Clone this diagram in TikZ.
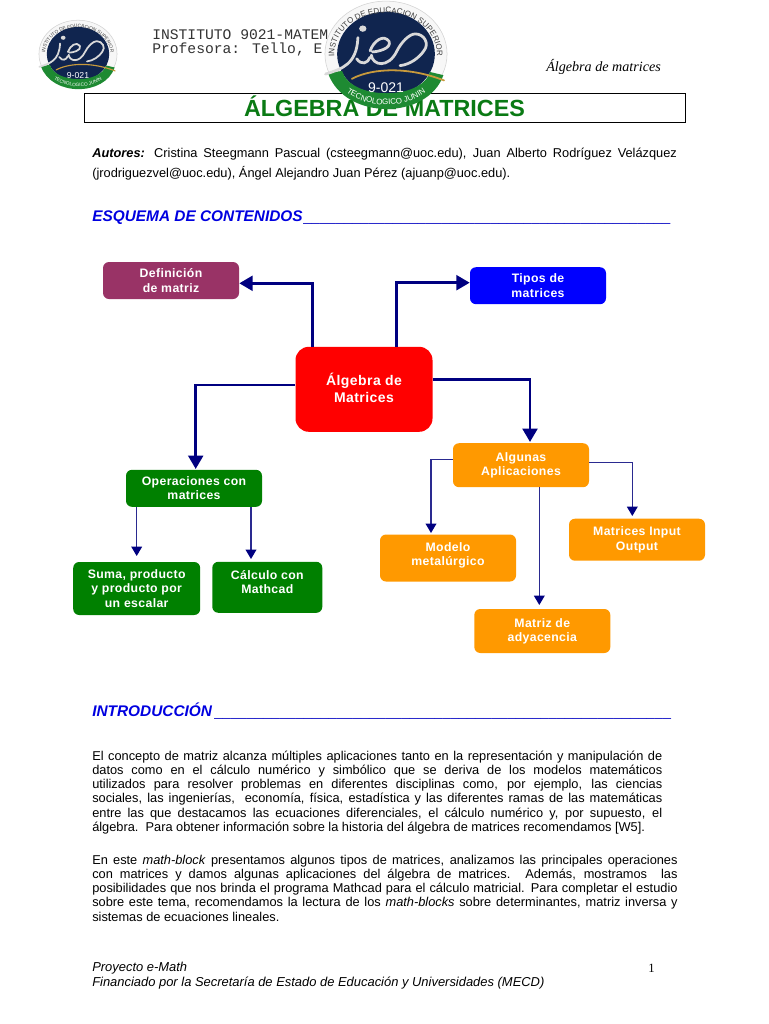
\documentclass[tikz,border=0pt]{standalone}
\usepackage{fontspec}
\setmainfont{Liberation Sans}
\newfontfamily\boxfont[LetterSpace=3]{Liberation Sans}
\newfontfamily\cour{Liberation Mono}
\newfontfamily\tms{Liberation Serif}
\usetikzlibrary{arrows.meta,decorations.text}
\definecolor{navy}{HTML}{000080}
\definecolor{thinblue}{HTML}{2A2A90}
\definecolor{defc}{HTML}{993366}
\definecolor{grn}{HTML}{008000}
\definecolor{org}{HTML}{FF9900}
\definecolor{logonavy}{HTML}{10254F}
\definecolor{logogreen}{HTML}{1E8A32}
\definecolor{logogold}{HTML}{C89A3C}
\definecolor{titlegreen}{HTML}{0A7A14}
\definecolor{headblue}{HTML}{0000E0}
\definecolor{rulecol}{HTML}{1A1AC8}
\tikzset{
 sz/.style 2 args={minimum width=#1*0.75pt,minimum height=#2*0.75pt},
 bx/.style={rounded corners=4.5pt,inner sep=0pt,align=center,text=white,
   font=\boxfont\bfseries\fontsize{9.2}{10.7}\selectfont},
 bigarrow/.style={draw=navy,line width=2.2pt,-{Triangle[length=10pt,width=11pt]}},
 thinarrow/.style={draw=thinblue,line width=1pt,-{Triangle[length=7pt,width=8pt,color=navy,fill=navy]}},
 txt/.style={anchor=base west,inner sep=0pt,font=\fontsize{9.6}{10}\selectfont},
 headtxt/.style={anchor=base west,inner sep=0pt,text=headblue,font=\bfseries\itshape\fontsize{11.55}{12}\selectfont},
 foottxt/.style={anchor=base west,inner sep=0pt,font=\itshape\fontsize{9.7}{10}\selectfont},
 rulelead/.style={anchor=base west,inner sep=0pt,text=rulecol,font=\fontsize{11}{12}\selectfont},
}
% justified line of width #1 pt
\newcommand{\jl}[2]{\hbox to #1pt{#2}}
% box text lifted by #1 without changing the centring
\newcommand{\upbox}[2]{\raisebox{#1}[\height][\depth]{\begin{tabular}{@{}c@{}}#2\end{tabular}}}
% logo: name, cx, cy, x radius (px), font sizes
\newcommand{\ieslogo}[6]{%
 \begin{scope}[shift={(#2,#3)},x=#4*0.0075pt,y=-#4*0.0065pt]
  \fill[white!97!black] (0,0) circle (100);
  \draw[gray!35,line width=0.4pt] (0,0) circle (100);
  \fill[logonavy] (0,0) circle (80);
  \fill[logogreen] (-95,36) .. controls (-68,126) and (68,126) .. (94,40)
     -- (72,34) .. controls (58,88) and (-58,88) .. (-72,32) -- cycle;
  \draw[logogold,line width=#4*0.022pt,line cap=round] (-56,47) .. controls (-20,25) and (40,25) .. (95,50);
  \draw[white!85!black,line width=#4*0.034pt,line cap=round,line join=round]
    (-99,38) .. controls (-72,28) and (-48,20) .. (-46,-31)
    (-48,9) .. controls (-40,22) and (-30,18) .. (-26,6)
    (-26,-6) .. controls (-20,-25) and (-4,-38) .. (5,-24) .. controls (10,-10) and (-15,-4) .. (-22,-4)
    (-24,2) .. controls (-22,22) and (4,28) .. (18,-6)
    (18,-6) .. controls (25,-22) and (38,-38) .. (48,-38) .. controls (62,-38) and (72,-20) .. (62,-6) .. controls (55,6) and (40,20) .. (23,22);
  \fill[white!85!black] (-38,-48) circle (6);
  \node[text=white,inner sep=0pt,font=\fontsize{#5}{#5}\selectfont] (#1num) at (0,64) {9-021};
  \path[decorate,decoration={text along path,text align=center,
     text={|\fontsize{#6}{#6}\selectfont\color{black!75}|INSTITUTO DE EDUCACION SUPERIOR}}]
     (-84,10) arc[start angle=173,end angle=367,x radius=84,y radius=78];
  \path[decorate,decoration={text along path,text align=center,
     text={|\fontsize{#6}{#6}\selectfont\color{white}|TECNOLOGICO JUNIN}}]
     (-65,72) .. controls (-30,104) and (30,104) .. (65,72);
 \end{scope}}
\catcode`\_=12
\begin{document}
\begin{tikzpicture}[x=0.75pt,y=-0.75pt]
\useasboundingbox (0,0) rectangle (768,1024);
\fill[white] (0,0) rectangle (768,1024);
% header
\node[anchor=base west,inner sep=0pt,font=\cour\fontsize{11}{12}\selectfont,text=black!80] (h1) at (152,40) {INSTITUTO 9021-MATEM};
\node[anchor=base west,inner sep=0pt,font=\cour\fontsize{11}{12}\selectfont,text=black!80] (h2) at (152,54) {Profesora: Tello, E};
\node[anchor=base west,inner sep=0pt,font=\tms\itshape\fontsize{10.6}{11}\selectfont] (h3) at (546,72) {Álgebra de matrices};
% title
\node[draw=black,line width=0.6pt,sz={601}{29},inner sep=0pt,text=titlegreen,font=\bfseries\fontsize{17.5}{18}\selectfont] (title) at (384.5,107.5) {\raisebox{1pt}[\height][\depth]{ÁLGEBRA DE MATRICES}};
\ieslogo{la}{78}{54}{39}{6.5}{3.6}
\ieslogo{lb}{386}{54}{61}{10.5}{6}
% autores
\node[txt] (a1) at (92,157) {\jl{438.5}{\bfseries\itshape Autores:\mdseries\upshape{} Cristina Steegmann Pascual (csteegmann@uoc.edu), Juan Alberto Rodríguez Velázquez}};
\node[txt] (a2) at (92,177) {(jrodriguezvel@uoc.edu), Ángel Alejandro Juan Pérez (ajuanp@uoc.edu).};
% headings
\node[headtxt] (e1) at (92,221) {ESQUEMA DE CONTENIDOS};
\node[rulelead] (e2) at (303,221) {_____________________________________________};
\node[headtxt] (i1) at (92,716) {INTRODUCCIÓN};
\node[rulelead] (i2) at (214,716) {________________________________________________________};
% boxes
\node[bx,fill=defc,sz={136}{37}] (def) at (171,280.5) {Definición\\de matriz};
\node[bx,fill=blue,sz={136}{37}] (tip) at (538,285.7) {Tipos de\\matrices};
\node[bx,fill=red,sz={137}{85},rounded corners=10pt,font=\boxfont\bfseries\fontsize{10.5}{12.6}\selectfont] (main) at (364,389.3) {\upbox{-0.7pt}{Álgebra de\\Matrices}};
\node[bx,fill=grn,sz={136}{37}] (ops) at (194,488.3) {Operaciones con\\matrices};
\node[bx,fill=grn,sz={127}{53}] (sum) at (136.7,588.5) {Suma, producto\\y producto por\\un escalar};
\node[bx,fill=grn,sz={110}{51}] (cal) at (267.3,587.3) {\upbox{3pt}{Cálculo con\\Mathcad}};
\node[bx,fill=org,sz={136}{44}] (alg) at (521,465.2) {Algunas\\Aplicaciones};
\node[bx,fill=org,sz={136}{47}] (mod) at (448,558) {\upbox{2pt}{Modelo\\metalúrgico}};
\node[bx,fill=org,sz={136}{42}] (inp) at (637,539.7) {Matrices Input\\Output};
\node[bx,fill=org,sz={136}{44}] (mat) at (542.3,631) {Matriz de\\adyacencia};
% free ends
\coordinate (sumtip) at (136.7,556);
\coordinate (caltip) at (251,559);
\coordinate (modtip) at (431,533);
\coordinate (inptip) at (632.3,516);
\coordinate (mattip) at (539.3,605);
\coordinate (algtip) at (530,442);
\coordinate (opstip) at (195.7,469);
% connectors
\draw[bigarrow] (main.north -| 312.7,0) |- (def.east |- 0,283.3);
\draw[bigarrow] (main.north -| 396.7,0) |- (tip.west |- 0,282.7);
\draw[bigarrow] (main.west |- 0,385) -| (opstip);
\draw[bigarrow] (main.east |- 0,379.3) -| (algtip);
\draw[thinarrow] (ops.south -| sumtip) -- (sumtip);
\draw[thinarrow] (ops.south -| caltip) -- (caltip);
\draw[thinarrow] (alg.west |- 0,459.5) -| (modtip);
\draw[thinarrow] (alg.east |- 0,462.7) -| (inptip);
\draw[thinarrow] (alg.south -| mattip) -- (mattip);
% body
\node[txt] (p1) at (92,760) {\jl{427.5}{El concepto de matriz alcanza múltiples aplicaciones tanto en la representación y manipulación de}};
\node[txt] (p2) at (92,774.3) {\jl{427.5}{datos como en el cálculo numérico y simbólico que se deriva de los modelos matemáticos}};
\node[txt] (p3) at (92,788.6) {\jl{427.5}{utilizados para resolver problemas en diferentes disciplinas como, por ejemplo, las ciencias}};
\node[txt] (p4) at (92,802.9) {\jl{427.5}{sociales, las ingenierías,\ \ economía, física, estadística y las diferentes ramas de las matemáticas}};
\node[txt] (p5) at (92,817.2) {\jl{427.5}{entre las que destacamos las ecuaciones diferenciales, el cálculo numérico y, por supuesto, el}};
\node[txt] (p6) at (92,831.5) {álgebra.\ \ Para obtener información sobre la historia del álgebra de matrices recomendamos [W5].};
\node[txt] (q1) at (92,864) {\jl{439}{En este \textit{math-block} presentamos algunos tipos de matrices, analizamos las principales operaciones}};
\node[txt] (q2) at (92,878.3) {\jl{439}{con matrices y damos algunas aplicaciones del álgebra de matrices. Además, mostramos\ \ las}};
\node[txt] (q3) at (92,892.6) {\jl{439}{posibilidades que nos brinda el programa Mathcad para el cálculo matricial. Para completar el estudio}};
\node[txt] (q4) at (92,906.9) {\jl{439}{sobre este tema, recomendamos la lectura de los \textit{math-blocks} sobre determinantes, matriz inversa y}};
\node[txt] (q5) at (92,921.2) {sistemas de ecuaciones lineales.};
% footer
\node[foottxt] (f1) at (92,971) {Proyecto e-Math};
\node[foottxt] (f2) at (92,986) {Financiado por la Secretaría de Estado de Educación y Universidades (MECD)};
\node[anchor=base west,inner sep=0pt,font=\tms\fontsize{9.5}{10}\selectfont] (f3) at (648,972) {1};
\end{tikzpicture}
\end{document}
